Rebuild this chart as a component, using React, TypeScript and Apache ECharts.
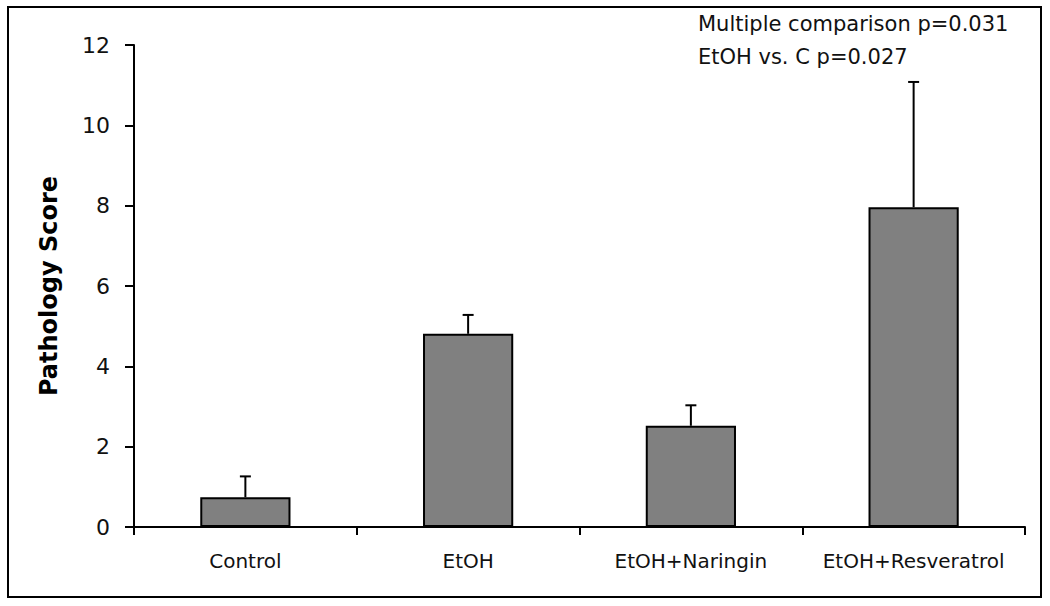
import React, { useEffect, useRef } from "react";
import * as echarts from "echarts";

const categories = ["Control", "EtOH", "EtOH+Naringin", "EtOH+Resveratrol"];
const means = [0.74, 4.81, 2.52, 7.96];
const errors = [0.52, 0.47, 0.51, 3.12];
const annotationLines = ["Multiple comparison p=0.031", "EtOH vs. C p=0.027"];

const FONT = "'DejaVu Sans', 'Liberation Sans', Arial, sans-serif";

export default function App() {
  const ref = useRef<HTMLDivElement>(null);
  useEffect(() => {
    document.body.style.margin = "0";
    const chart = echarts.init(ref.current!, null, { renderer: "svg" });
    const errData = categories.map((c, i) => [i, means[i], means[i] + errors[i]]);
    chart.setOption({
      animation: false,
      backgroundColor: "#ffffff",
      grid: { left: 134, right: 25, top: 45, bottom: 79 },
      xAxis: {
        type: "category",
        data: categories,
        axisLine: { lineStyle: { color: "#000", width: 2 } },
        axisTick: { show: true, inside: false, length: 8, interval: 0, alignWithLabel: false, lineStyle: { color: "#000", width: 2 } },
        axisLabel: { color: "#111", fontFamily: FONT, fontSize: 20, margin: 24, interval: 0, hideOverlap: false },
      },
      yAxis: {
        type: "value",
        min: 0,
        max: 12,
        interval: 2,
        name: "Pathology Score",
        nameLocation: "middle",
        nameGap: 73,
        nameTextStyle: { color: "#000", fontFamily: FONT, fontSize: 24, fontWeight: "bold" },
        axisLine: { show: true, lineStyle: { color: "#000", width: 2 } },
        axisTick: { show: true, length: 9, lineStyle: { color: "#000", width: 2 } },
        axisLabel: { color: "#111", fontFamily: FONT, fontSize: 22, margin: 24 },
        splitLine: { show: false },
      },
      series: [
        {
          type: "bar",
          data: means,
          barWidth: "40.5%",
          itemStyle: { color: "#808080", borderColor: "#000", borderWidth: 2 },
        },
        {
          type: "custom",
          data: errData,
          z: 5,
          renderItem: (params: any, api: any) => {
            const x = api.value(0);
            const lo = api.coord([x, api.value(1)]);
            const hi = api.coord([x, api.value(2)]);
            const half = 5.5;
            return {
              type: "group",
              children: [
                { type: "line", shape: { x1: lo[0], y1: lo[1], x2: hi[0], y2: hi[1] }, style: { stroke: "#000", lineWidth: 2 } },
                { type: "line", shape: { x1: hi[0] - half, y1: hi[1], x2: hi[0] + half, y2: hi[1] }, style: { stroke: "#000", lineWidth: 2 } },
              ],
            };
          },
        },
      ],
      graphic: [
        {
          type: "rect",
          shape: { x: 8, y: 7, width: 1033, height: 590 },
          style: { fill: "none", stroke: "#000", lineWidth: 2 },
          silent: true,
        },
        {
          type: "text",
          x: 698,
          y: 24,
          style: { text: annotationLines[0], fill: "#111", font: `21px ${FONT}`, verticalAlign: "middle" },
        },
        {
          type: "text",
          x: 698,
          y: 57,
          style: { text: annotationLines[1], fill: "#111", font: `21px ${FONT}`, verticalAlign: "middle" },
        },
      ],
    });
    return () => chart.dispose();
  }, []);
  return <div ref={ref} style={{ position: "absolute", left: 0, top: 0, width: 1050, height: 606 }} />;
}
